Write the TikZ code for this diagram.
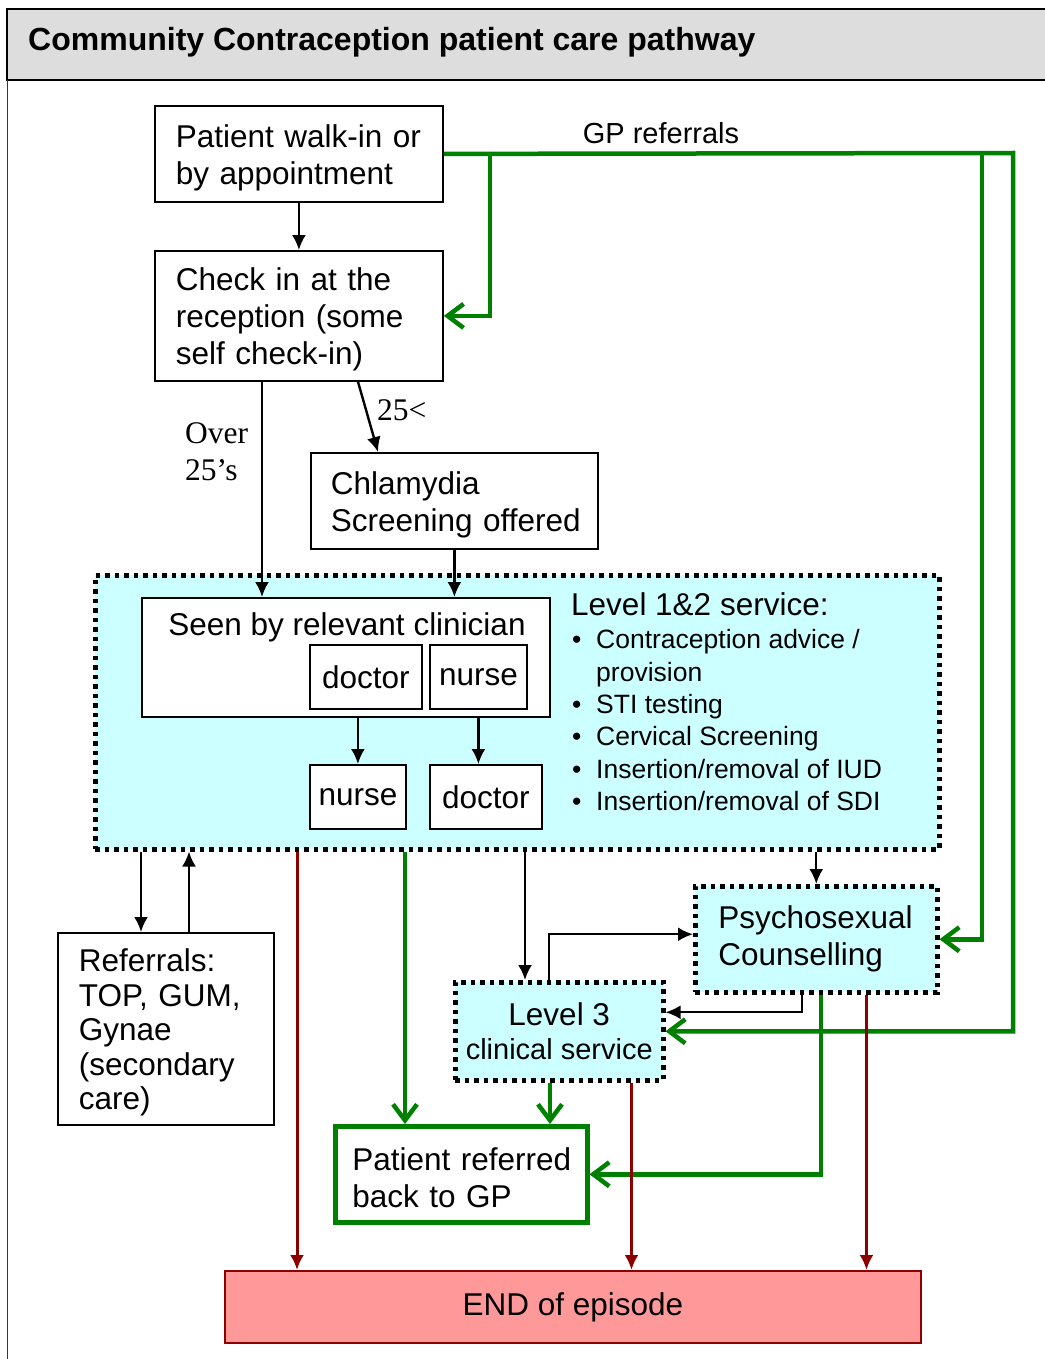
\documentclass[tikz,border=0pt]{standalone}
\usepackage{fontspec}
\setmainfont{Liberation Sans}
\newfontfamily\serifnote{Liberation Serif}
\usepackage{tikz}
\usetikzlibrary{arrows.meta}

\hyphenpenalty=10000
\exhyphenpenalty=10000

\definecolor{pathgreen}{RGB}{0,128,0}
\definecolor{enddark}{RGB}{140,0,0}
\definecolor{servcyan}{RGB}{204,255,255}
\definecolor{endpink}{RGB}{255,153,153}
\definecolor{headgray}{RGB}{221,221,221}
\definecolor{pageblue}{RGB}{31,56,100}

\newcommand{\servitem}{\makebox[24pt][l]{\textbullet}}

\tikzset{
  flowbox/.style={draw, line width=1.8pt, fill=white, align=left, inner ysep=0pt, anchor=north west},
  textbox/.style={flowbox, execute at begin node={\rule{0pt}{30pt}}},
  dotbox/.style={draw, line width=4.5pt, dash pattern=on 4.5pt off 5pt, fill=servcyan, anchor=north west},
  arr/.style={line width=2.4pt, -{Latex[length=15pt,width=14pt]}},
  garr/.style={draw=pathgreen, line width=4.5pt, -{Straight Barb[length=16pt,width=24pt]}},
  rarr/.style={draw=enddark, line width=3pt, -{Latex[length=15pt,width=14pt]}}
}

\begin{document}
\begin{tikzpicture}[x=1pt, y=-1pt, font=\fontsize{31.5}{37}\selectfont]
      \useasboundingbox (0,0) rectangle (1044,1359);
      % header band
      \fill[headgray] (7,9) rectangle (1060,80);
      \draw[line width=2pt] (1060,9) -- (7,9) -- (7,80) -- (1060,80);
      \draw[pageblue, line width=1pt] (7,80) -- (7,1359);
      \node[anchor=west, inner sep=0pt, font=\bfseries\fontsize{32}{37}\selectfont] (title) at (28,42) {Community Contraception patient care pathway};

      % level 1&2 area
      \node[dotbox, minimum width=844pt, minimum height=274pt] (levone) at (93,573) {};

      \node[textbox, minimum height=96pt, text width=246pt, inner xsep=21pt] (walkin) at (154,105) {Patient~walk-in~or\\by~appointment};
      \node[textbox, minimum height=130pt, text width=246pt, inner xsep=21pt] (checkin) at (154,250) {Check~in~at~the\\reception~(some\\self~check-in)};
      \node[textbox, minimum height=96pt, text width=247pt, inner xsep=20pt] (chlam) at (310,452) {Chlamydia\\Screening~offered};

      \node[flowbox, minimum width=408pt, minimum height=119pt] (seen) at (141,597) {};
      \node (seentxt) at (347,627) {Seen by relevant clinician};
      \node[flowbox, minimum width=112pt, minimum height=64pt, inner xsep=0pt] (docone) at (309,644) {doctor};
      \node[flowbox, minimum width=97pt, minimum height=64pt, inner xsep=0pt] (nurseone) at (429,644) {nurse};
      \node[flowbox, minimum width=96pt, minimum height=64pt, inner xsep=0pt] (nursetwo) at (309,764) {nurse};
      \node[flowbox, minimum width=112pt, minimum height=64pt, inner xsep=0pt] (doctwo) at (429,764) {doctor};

      \node[anchor=west, inner sep=0pt] (levtitle) at (571,604) {Level 1\&2 service:};
      \node[anchor=north west, inner sep=0pt, align=left, font=\fontsize{26.5}{32.3}\selectfont] (levlist) at (572,629.5)
        {\servitem Contraception advice /\\\hspace*{24pt}provision\\\servitem STI testing\\\servitem Cervical Screening\\\servitem Insertion/removal of IUD\\\servitem Insertion/removal of SDI};

      \node[dotbox, minimum width=242pt, minimum height=106pt, text width=196pt, inner xsep=23pt, align=left] (psycho) at (693,884) {Psychosexual\\Counselling};
      \node[dotbox, minimum width=208pt, minimum height=98pt, align=center, inner sep=0pt] (levthree) at (453,980) {Level 3\\[-3pt]{\fontsize{29}{34}\selectfont clinical service}};

      \node[textbox, minimum height=192pt, text width=174pt, inner xsep=21pt, font=\fontsize{31.5}{34.5}\selectfont] (referral) at (57,932) {Referrals:\\TOP,~GUM,\\Gynae\\(secondary\\care)};
      \node[textbox, draw=pathgreen, line width=4.5pt, minimum height=96pt, text width=218pt, inner xsep=17pt] (gpback) at (333,1124) {Patient~referred\\back~to~GP};
      \node[draw=enddark, line width=1.8pt, fill=endpink, anchor=north west, minimum width=696pt, minimum height=72pt] (endep) at (224,1270) {END of episode};

      % labels
      \node[anchor=west, inner sep=0pt, font=\serifnote\fontsize{31.5}{37}\selectfont] (young) at (377,410) {25<};
      \node[anchor=west, inner sep=0pt, align=left, font=\serifnote\fontsize{31.5}{37}\selectfont] (older) at (185,452) {Over\\25’s};
      \node[font=\fontsize{29}{34}\selectfont] (gplabel) at (661,133) {GP referrals};

      % black flow
      \draw[arr] (walkin) -- (checkin);
      \draw[arr] ([xshift=108pt]checkin.south west) -- ([xshift=108pt]checkin.south west |- seen.north);
      \draw[arr] ([xshift=204pt]checkin.south west) -- ([xshift=68pt]chlam.north west);
      \draw[arr] (chlam.south) -- (chlam.south |- seen.north);
      \draw[arr] (nursetwo.north |- seen.south) -- (nursetwo.north);
      \draw[arr] (nurseone.south |- seen.south) -- (nurseone.south |- doctwo.north);
      \draw[arr] ([xshift=84pt]referral.north west |- levone.south) -- ([xshift=84pt]referral.north west);
      \draw[arr] ([xshift=132pt]referral.north west) -- ([xshift=132pt]referral.north west |- levone.south);
      \draw[arr] ([xshift=72pt]levthree.north west |- levone.south) -- ([xshift=72pt]levthree.north west);
      \draw[arr] (psycho.north |- levone.south) -- (psycho.north);
      \draw[arr] ([xshift=96pt]levthree.north west) |- ([yshift=5pt]psycho.west);
      \draw[arr] ([xshift=109pt]psycho.south west) |- ([yshift=19pt]levthree.east);

      % green: GP
      \coordinate (gpinner) at (490,153);
      \coordinate (gpouter) at (982,153);
      \coordinate (gpturn) at (1013,153);
      \draw[garr] (walkin.east) -- (gpturn) |- (levthree.east);
      \draw[garr] (gpinner) |- (checkin.east);
      \draw[garr] (gpouter) |- (psycho.east);
      \draw[garr] ([xshift=72pt]gpback.north west |- levone.south) -- ([xshift=72pt]gpback.north west);
      \draw[garr] ([xshift=97pt]levthree.south west) -- ([xshift=97pt]levthree.south west |- gpback.north);
      \draw[garr] ([xshift=128pt]psycho.south west) |- (gpback.east);

      % red: end
      \draw[rarr] ([xshift=73pt]endep.north west |- levone.south) -- ([xshift=73pt]endep.north west);
      \draw[rarr] ([xshift=-34pt]levthree.south east) -- ([xshift=-34pt]levthree.south east |- endep.north);
      \draw[rarr] ([xshift=-73pt]psycho.south east) -- ([xshift=-73pt]psycho.south east |- endep.north);
\end{tikzpicture}
\end{document}
